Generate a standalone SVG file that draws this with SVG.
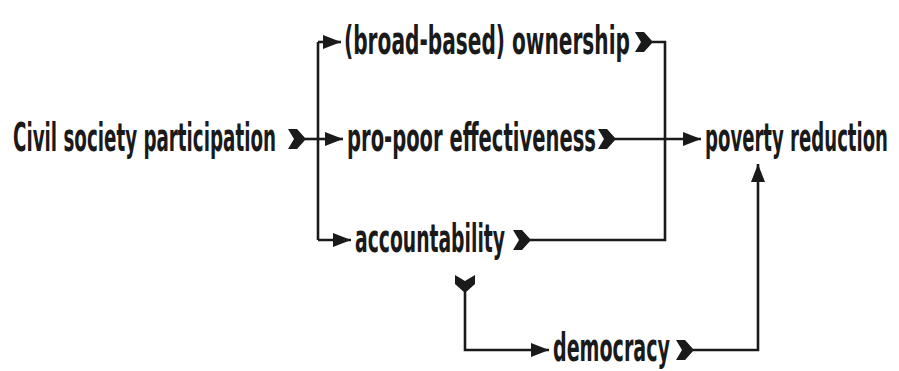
<svg xmlns="http://www.w3.org/2000/svg" width="899" height="371" viewBox="0 0 899 371">
  <style>
    .lbl { font-family: "Liberation Sans Narrow", "DejaVu Sans Condensed", "Liberation Sans", sans-serif; font-size: 39px; font-weight: bold; fill: #1a1a1a; }
    .wire { fill: none; stroke: #1a1a1a; stroke-width: 2.6; }
    .tail { fill: #1a1a1a; }
  </style>
  <defs>
    <marker id="head" markerUnits="userSpaceOnUse" markerWidth="19" markerHeight="16" refX="18" refY="8" orient="auto">
      <path d="M0,1 L18,8 L0,15 Z" fill="#1a1a1a"/>
    </marker>
    <!-- notched tail, pointing along +x, tip at origin -->
    <path id="fletch" d="M1,0 L-8,-10 L-17,-10 L-11,0 L-17,10 L-8,10 Z"/>
  </defs>

  <rect width="899" height="371" fill="#ffffff"/>

  <g id="connectors">
    <!-- fan-out from participation -->
    <path class="wire" d="M305,139 L318,139"/>
    <path class="wire" d="M318,42 L318,240"/>
    <path class="wire" d="M318,42 L341,42" marker-end="url(#head)"/>
    <path class="wire" d="M318,139 L343,139" marker-end="url(#head)"/>
    <path class="wire" d="M318,240 L351,240" marker-end="url(#head)"/>
    <!-- fan-in to poverty reduction -->
    <path class="wire" d="M652,42 L665,42 L665,240 L530,240"/>
    <path class="wire" d="M615,139 L701,139" marker-end="url(#head)"/>
    <!-- accountability to democracy -->
    <path class="wire" d="M465,292 L465,350 L549,350" marker-end="url(#head)"/>
    <!-- democracy to poverty reduction -->
    <path class="wire" d="M693,350 L758,350 L758,164" marker-end="url(#head)"/>
    <!-- tails -->
    <use href="#fletch" class="tail" x="305" y="139"/>
    <use href="#fletch" class="tail" x="652" y="42"/>
    <use href="#fletch" class="tail" x="615" y="139"/>
    <use href="#fletch" class="tail" x="530" y="240"/>
    <use href="#fletch" class="tail" x="693" y="350"/>
    <use href="#fletch" class="tail" transform="translate(465,292) rotate(90)"/>
  </g>

  <!-- labels are set in a condensed cut: horizontal scale 0.56 -->
  <g id="civil-society-participation">
    <text class="lbl" transform="translate(13,151) scale(0.56,1)" textLength="469.6" lengthAdjust="spacingAndGlyphs">Civil society participation</text>
  </g>
  <g id="ownership">
    <text class="lbl" transform="translate(344,54) scale(0.56,1)" textLength="510.7" lengthAdjust="spacingAndGlyphs">(broad-based) ownership</text>
  </g>
  <g id="pro-poor-effectiveness">
    <text class="lbl" transform="translate(347,151) scale(0.56,1)" textLength="444.6" lengthAdjust="spacingAndGlyphs">pro-poor effectiveness</text>
  </g>
  <g id="accountability">
    <text class="lbl" transform="translate(355,252) scale(0.56,1)" textLength="267.9" lengthAdjust="spacingAndGlyphs">accountability</text>
  </g>
  <g id="poverty-reduction">
    <text class="lbl" transform="translate(705,151) scale(0.56,1)" textLength="326.8" lengthAdjust="spacingAndGlyphs">poverty reduction</text>
  </g>
  <g id="democracy">
    <text class="lbl" transform="translate(553,361) scale(0.56,1)" textLength="208.9" lengthAdjust="spacingAndGlyphs">democracy</text>
  </g>
</svg>
